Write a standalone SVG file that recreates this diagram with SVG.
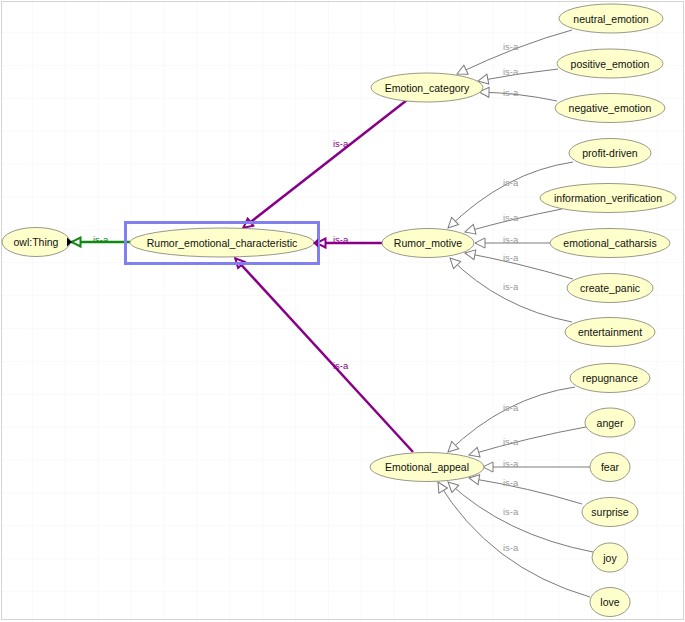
<svg xmlns="http://www.w3.org/2000/svg" width="685" height="622" viewBox="0 0 685 622">
<style>
.node ellipse{fill:#ffffcc;stroke:#999988;stroke-width:1}
.node text{font-family:"Liberation Sans",Arial,sans-serif;font-size:10.5px;fill:#111;text-anchor:middle;dominant-baseline:central}
.e{fill:none;stroke:#7a7a7a;stroke-width:1;marker-end:url(#ag)}
.ep{fill:none;stroke:#880088;stroke-width:2.5;marker-end:url(#ap)}
.eg{fill:none;stroke:#118811;stroke-width:2.5;marker-end:url(#agr)}
.l{font-family:"Liberation Sans",Arial,sans-serif;font-size:9.5px;fill:#999}
.lp{font-family:"Liberation Sans",Arial,sans-serif;font-size:9.5px;fill:#880088}
.lg{font-family:"Liberation Sans",Arial,sans-serif;font-size:9.5px;fill:#118811}
</style>
<defs>
<pattern id="grid" width="32.9" height="32.9" patternUnits="userSpaceOnUse">
<path d="M32.9,0 V32.9 M0,32.9 H32.9" fill="none" stroke="#f3f3f3" stroke-width="1"/>
</pattern>
<marker id="ag" viewBox="0 0 12 12" refX="11" refY="6" markerWidth="12" markerHeight="12" markerUnits="userSpaceOnUse" orient="auto">
<path d="M1,1 L11,6 L1,11 z" fill="#fff" stroke="#7a7a7a" stroke-width="1"/>
</marker>
<marker id="ap" viewBox="0 0 12 12" refX="11" refY="6" markerWidth="12" markerHeight="12" markerUnits="userSpaceOnUse" orient="auto">
<path d="M1.5,1.5 L10.5,6 L1.5,10.5 z" fill="#fff" stroke="#880088" stroke-width="2"/>
</marker>
<marker id="agr" viewBox="0 0 12 12" refX="11" refY="6" markerWidth="12" markerHeight="12" markerUnits="userSpaceOnUse" orient="auto">
<path d="M1.5,1.5 L10.5,6 L1.5,10.5 z" fill="#fff" stroke="#118811" stroke-width="2"/>
</marker>
</defs>
<rect x="0" y="0" width="685" height="622" fill="#fff"/>
<rect x="0" y="0" width="685" height="622" fill="url(#grid)"/>
<rect x="1.5" y="1.5" width="682" height="618" fill="none" stroke="#d4d4d4" stroke-width="1"/>

<g id="connectors">
<path class="e" d="M572,30 Q520,44 457,74"/>
<path class="e" d="M558,69 Q520,73 478,81"/>
<path class="e" d="M557,101 Q520,93 479,92"/>
<path class="e" d="M573,162 Q505,172 448,228"/>
<path class="e" d="M562,209 Q515,218 465,232"/>
<path class="e" d="M550,243 L475,243"/>
<path class="e" d="M573,279 Q515,262 465,253"/>
<path class="e" d="M572,322 Q500,308 450,258"/>
<path class="e" d="M575,387 Q505,397 448,452"/>
<path class="e" d="M586,427 Q530,437 469,455"/>
<path class="e" d="M590,467 L483,467"/>
<path class="e" d="M582,504 Q530,488 469,478"/>
<path class="e" d="M593,552 Q505,535 448,482"/>
<path class="e" d="M590,597 Q490,568 438,482"/>
<path class="ep" d="M407,100 L243,228"/>
<path class="ep" d="M382,243 L316,243"/>
<path class="ep" d="M413,452 L235,258"/>
<path class="eg" d="M130,242 L71,242"/>
<text class="l" x="503" y="50">is-a</text>
<text class="l" x="503" y="75">is-a</text>
<text class="l" x="503" y="96">is-a</text>
<text class="l" x="503" y="186">is-a</text>
<text class="l" x="503" y="221">is-a</text>
<text class="l" x="503" y="243">is-a</text>
<text class="l" x="503" y="261">is-a</text>
<text class="l" x="503" y="290">is-a</text>
<text class="l" x="503" y="411">is-a</text>
<text class="l" x="503" y="445">is-a</text>
<text class="l" x="503" y="467">is-a</text>
<text class="l" x="503" y="486">is-a</text>
<text class="l" x="503" y="515">is-a</text>
<text class="l" x="503" y="551">is-a</text>
<text class="lp" x="333" y="147">is-a</text>
<text class="lp" x="333" y="243">is-a</text>
<text class="lp" x="333" y="369">is-a</text>
<text class="lg" x="93" y="243">is-a</text>
</g>

<g id="owl_Thing" class="node">
<ellipse cx="36" cy="242" rx="34" ry="14.5"/>
<text x="36" y="242">owl:Thing</text>
<polygon points="67,237.5 72,242 67,246.5" fill="#000"/>
</g>
<g id="Rumor_emotional_characteristic" class="node">
<rect x="125.5" y="222.5" width="193" height="41" fill="none" stroke="#8080f0" stroke-width="3"/>
<ellipse cx="222" cy="242.5" rx="92" ry="14.5"/>
<text x="222" y="242.5">Rumor_emotional_characteristic</text>
<polygon points="318,238.5 313,243 318,247.5" fill="#880088"/>
</g>
<g id="Emotion_category" class="node">
<ellipse cx="427" cy="87.5" rx="56" ry="14.5"/>
<text x="427" y="87.5">Emotion_category</text>
</g>
<g id="Rumor_motive" class="node">
<ellipse cx="428" cy="243" rx="46" ry="14.5"/>
<text x="428" y="243">Rumor_motive</text>
</g>
<g id="Emotional_appeal" class="node">
<ellipse cx="427" cy="467" rx="57" ry="14.5"/>
<text x="427" y="467">Emotional_appeal</text>
</g>
<g id="neutral_emotion" class="node">
<ellipse cx="611" cy="18.5" rx="52" ry="14.5"/>
<text x="611" y="18.5">neutral_emotion</text>
</g>
<g id="positive_emotion" class="node">
<ellipse cx="610" cy="63.5" rx="53" ry="14.5"/>
<text x="610" y="63.5">positive_emotion</text>
</g>
<g id="negative_emotion" class="node">
<ellipse cx="610" cy="108" rx="55" ry="14.5"/>
<text x="610" y="108">negative_emotion</text>
</g>
<g id="profit-driven" class="node">
<ellipse cx="610" cy="153" rx="41" ry="14.5"/>
<text x="610" y="153">profit-driven</text>
</g>
<g id="information_verification" class="node">
<ellipse cx="608" cy="198" rx="68" ry="14.5"/>
<text x="608" y="198">information_verification</text>
</g>
<g id="emotional_catharsis" class="node">
<ellipse cx="610" cy="243" rx="60" ry="14.5"/>
<text x="610" y="243">emotional_catharsis</text>
</g>
<g id="create_panic" class="node">
<ellipse cx="610" cy="288" rx="43" ry="14.5"/>
<text x="610" y="288">create_panic</text>
</g>
<g id="entertainment" class="node">
<ellipse cx="610" cy="332" rx="45" ry="14.5"/>
<text x="610" y="332">entertainment</text>
</g>
<g id="repugnance" class="node">
<ellipse cx="610" cy="378" rx="40" ry="14.5"/>
<text x="610" y="378">repugnance</text>
</g>
<g id="anger" class="node">
<ellipse cx="610" cy="422.5" rx="25" ry="14.5"/>
<text x="610" y="422.5">anger</text>
</g>
<g id="fear" class="node">
<ellipse cx="610" cy="467" rx="20" ry="14.5"/>
<text x="610" y="467">fear</text>
</g>
<g id="surprise" class="node">
<ellipse cx="610" cy="512" rx="28" ry="14.5"/>
<text x="610" y="512">surprise</text>
</g>
<g id="joy" class="node">
<ellipse cx="610" cy="557.5" rx="18" ry="14.5"/>
<text x="610" y="557.5">joy</text>
</g>
<g id="love" class="node">
<ellipse cx="610" cy="602" rx="20" ry="14.5"/>
<text x="610" y="602">love</text>
</g>
</svg>
